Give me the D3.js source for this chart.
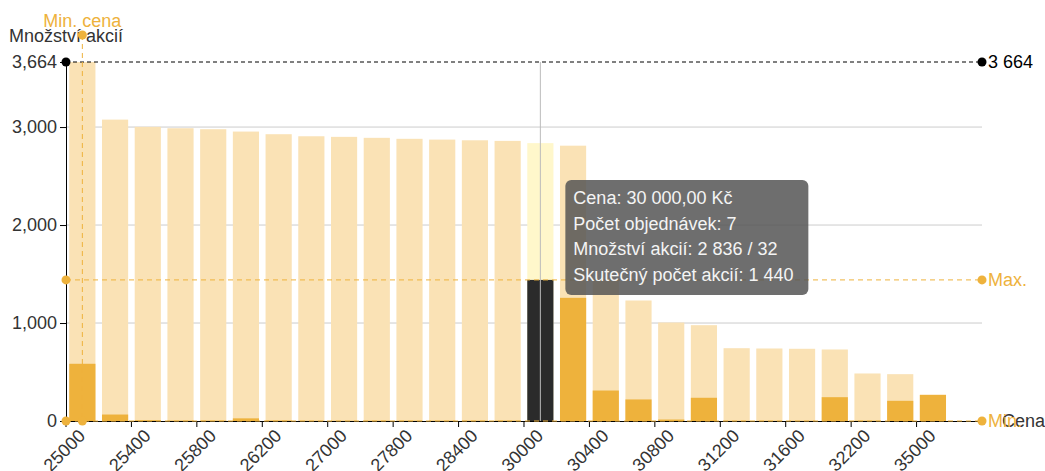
<!DOCTYPE html>
<html>
<head>
<meta charset="utf-8">
<script src="https://cdn.jsdelivr.net/npm/d3@7"></script>
<style>
  body { margin: 0; background: #fff; }
  svg { display: block; font-family: "Liberation Sans", Arial, sans-serif; }
  .axis text { font-size: 18px; fill: #333; }
  .axis path, .axis line { stroke: #000; }
</style>
</head>
<body>
<script>
var width = 1045,
  height = 471;

// ceny (kategorie osy x)
var prices = [25000, 25200, 25400, 25600, 25800, 26000, 26200, 26500, 27000, 27500,
  27800, 28000, 28400, 29000, 30000, 30200, 30400, 30600, 30800, 31000,
  31200, 31400, 31600, 32000, 32200, 32500, 35000, 36000];
// množství akcií (světlé sloupce)
var quantity = [3664, 3076, 3002, 2988, 2978, 2954, 2927, 2906, 2900, 2890,
  2880, 2872, 2865, 2859, 2836, 2810, 1450, 1230, 1005, 978,
  743, 740, 737, 730, 485, 478, 267, 0];
// skutečný počet akcií (tmavé sloupce)
var actual = [584, 66, 8, 4, 4, 27, 5, 2, 2, 3,
  3, 3, 3, 4, 1440, 1257, 311, 220, 15, 237,
  2, 2, 2, 243, 3, 206, 267, 0];
var yTicks = [0, 1000, 2000, 3000];
var selected = 30000;
var minPrice = 25000;
var maxLine = 1440, minLine = 0;
var tooltipLines = ["Cena: 30 000,00 Kč", "Počet objednávek: 7", "Množství akcií: 2 836 / 32", "Skutečný počet akcií: 1 440"];

var data = prices.map((p, i) => ({ price: p, q: quantity[i], a: actual[i] }));
var maxQ = d3.max(quantity);

var mLeft = 66, mRight = 982, mTop = 62, mBottom = 421;

var svg = d3.select("body").append("svg")
  .attr("width", width)
  .attr("height", height);

var x = d3.scaleBand()
  .domain(prices)
  .range([mLeft, mRight])
  .paddingInner(0.2)
  .paddingOuter(0.1);

var y = d3.scaleLinear()
  .domain([0, maxQ])
  .range([mBottom, mTop]);

// mřížka
svg.append("g").selectAll("line")
  .data(yTicks.filter(d => d > 0))
  .enter().append("line")
  .attr("x1", mLeft).attr("x2", mRight)
  .attr("y1", d => y(d)).attr("y2", d => y(d))
  .attr("stroke", "#ccc");

// sloupce - množství
svg.append("g").selectAll("rect")
  .data(data)
  .enter().append("rect")
  .attr("x", d => x(d.price))
  .attr("width", x.bandwidth())
  .attr("y", d => y(d.q))
  .attr("height", d => y(0) - y(d.q))
  .attr("fill", d => d.price === selected ? "#fff7cb" : "#fae2b5");

// sloupce - skutečný počet
svg.append("g").selectAll("rect")
  .data(data)
  .enter().append("rect")
  .attr("x", d => x(d.price))
  .attr("width", x.bandwidth())
  .attr("y", d => y(d.a))
  .attr("height", d => y(0) - y(d.a))
  .attr("fill", d => d.price === selected ? "#2b2b2b" : "#eeb23c");

// osa x
var xAxis = svg.append("g")
  .attr("class", "axis")
  .attr("transform", `translate(0,${mBottom})`)
  .call(d3.axisBottom(x)
    .tickValues(prices.filter((d, i) => i % 2 === 0))
    .tickSize(6)
    .tickSizeOuter(0));
xAxis.select(".domain").attr("d", `M${mLeft},0.5H${mRight}`);
xAxis.selectAll(".tick line")
  .attr("x1", -x.step() / 2)
  .attr("x2", -x.step() / 2);
xAxis.selectAll(".tick text")
  .attr("text-anchor", "end")
  .attr("dy", null)
  .attr("y", 0)
  .attr("transform", "translate(4,16) rotate(-45)");

// osa y
var yAxis = svg.append("g")
  .attr("class", "axis")
  .attr("transform", `translate(${mLeft},0)`)
  .call(d3.axisLeft(y)
    .tickValues(yTicks.concat([maxQ]))
    .tickFormat(d3.format(","))
    .tickSize(6)
    .tickSizeOuter(0));

svg.append("text")
  .attr("x", mLeft).attr("y", 42)
  .attr("text-anchor", "middle")
  .attr("font-size", 18).attr("fill", "#333")
  .text("Množství akcií");

svg.append("text")
  .attr("x", mRight + 20).attr("y", mBottom + 6)
  .attr("font-size", 18).attr("fill", "#333")
  .text("Cena");

// maximum množství
var czFormat = d3.formatLocale({ decimal: ",", thousands: "\u00a0", grouping: [3], currency: ["", " Kč"] }).format(",");
svg.append("line")
  .attr("x1", mLeft).attr("x2", mRight)
  .attr("y1", y(maxQ)).attr("y2", y(maxQ))
  .attr("stroke", "#000").attr("stroke-dasharray", "4,3");
svg.selectAll(".maxdot")
  .data([mLeft, mRight])
  .enter().append("circle")
  .attr("cx", d => d).attr("cy", y(maxQ)).attr("r", 4.5).attr("fill", "#000");
svg.append("text")
  .attr("x", mRight + 6).attr("y", y(maxQ) + 6)
  .attr("font-size", 18).attr("fill", "#000")
  .text(czFormat(maxQ));

// čáry Max. / Min.
var orange = "#eeb23c";
[[maxLine, "Max."], [minLine, "Min."]].forEach(([v, label]) => {
  svg.append("line")
    .attr("x1", mLeft).attr("x2", mRight)
    .attr("y1", y(v)).attr("y2", y(v))
    .attr("stroke", orange).attr("stroke-dasharray", "5,4");
  svg.selectAll(null)
    .data([mLeft, mRight])
    .enter().append("circle")
    .attr("cx", d => d).attr("cy", y(v)).attr("r", 4.5).attr("fill", orange);
  svg.append("text")
    .attr("x", mRight + 6).attr("y", y(v) + 6)
    .attr("font-size", 18).attr("fill", orange)
    .text(label);
});

// Min. cena
var mx = x(minPrice) + x.bandwidth() / 2;
svg.append("line")
  .attr("x1", mx).attr("x2", mx)
  .attr("y1", 35).attr("y2", mBottom)
  .attr("stroke", orange).attr("stroke-dasharray", "5,4");
svg.selectAll(null)
  .data([35, mBottom])
  .enter().append("circle")
  .attr("cx", mx).attr("cy", d => d).attr("r", 4.5).attr("fill", orange);
svg.append("text")
  .attr("x", mx).attr("y", 27)
  .attr("text-anchor", "middle")
  .attr("font-size", 18).attr("fill", orange)
  .text("Min. cena");

// zvýraznění vybrané ceny
var sx = x(selected) + x.bandwidth() / 2;
svg.append("line")
  .attr("x1", sx).attr("x2", sx)
  .attr("y1", mTop).attr("y2", mBottom)
  .attr("stroke", "#bbb");

// tooltip
var tip = svg.append("g").attr("transform", `translate(${sx + 25},180)`);
tip.append("rect")
  .attr("width", 243).attr("height", 115).attr("rx", 6)
  .attr("fill", "#555").attr("opacity", 0.85);
tip.selectAll("text")
  .data(tooltipLines)
  .enter().append("text")
  .attr("x", 8)
  .attr("y", (d, i) => 24 + i * 25.5)
  .attr("font-size", 18)
  .attr("fill", "#f4f4f4")
  .text(d => d);
</script>
</body>
</html>
